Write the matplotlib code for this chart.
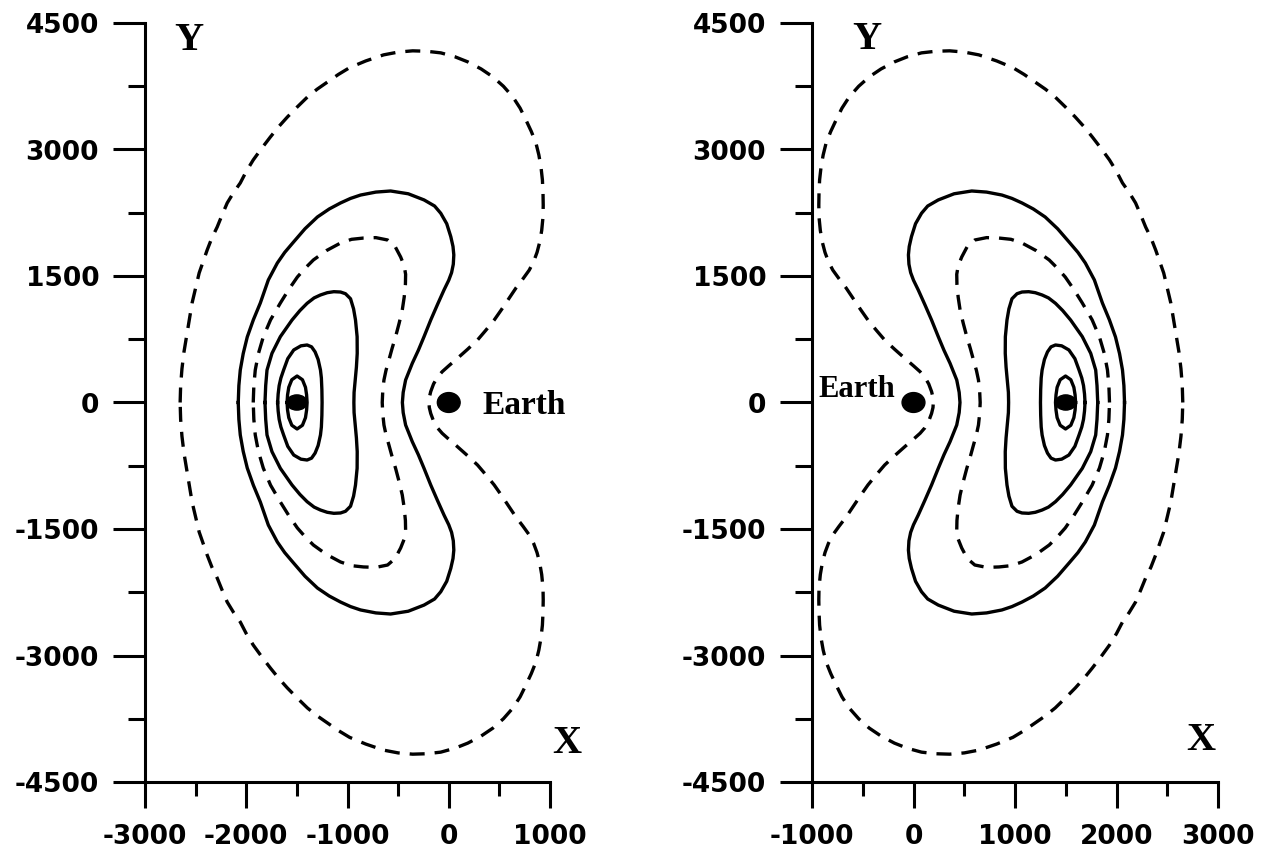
import matplotlib.pyplot as plt
from matplotlib.patches import Ellipse
from matplotlib.ticker import MultipleLocator

plt.rcParams['axes.unicode_minus'] = False

## curves of the left panel (moon at x=-1500), upper half only:
## from the left point on y=0, over the top, to the right point on y=0
d1_x = [-2653, -2648, -2635, -2615, -2584, -2560, -2535, -2500, -2465, -2420, -2386, -2340, -2287,
        -2240, -2188, -2125, -2059, -2000, -1931, -1850, -1762, -1680, -1594, -1500, -1396, -1300,
        -1198, -1090, -980, -820, -644, -500, -356, -220, -79, 60, 188, 320, 436, 540, 634, 705,
        762, 815, 861, 890, 911, 925, 931, 933, 931, 918, 898, 872, 838, 795, 735, 665, 590, 520, 449,
        365, 284, 185, 86, 0, -65, -112, -150, -178, -192, -195]
d1_y = [0, 200, 400, 600, 824, 1000, 1180, 1360, 1536, 1690, 1808, 1950, 2081,
        2220, 2366, 2490, 2603, 2740, 2876, 3010, 3148, 3270, 3385, 3500, 3622, 3715,
        3800, 3890, 3970, 4050, 4122, 4155, 4170, 4165, 4146, 4100, 4039, 3955, 3861, 3750, 3622, 3490,
        3351, 3215, 3077, 2935, 2792, 2640, 2484, 2340, 2200, 2040, 1900, 1780, 1670, 1570, 1470, 1360, 1225, 1100, 978,
        855, 741, 630, 524, 435, 365, 300, 220, 130, 60, 0]

s1_x = [-2079, -2073, -2059, -2030, -1990, -1930, -1861, -1782, -1693, -1620, -1535, -1420, -1297,
        -1180, -1069, -970, -871, -720, -574, -400, -244, -140, -79, -20, 20, 42, 50, 45, 28,
        0, -47, -112, -178, -244, -300, -360, -426, -450, -458]
s1_y = [0, 200, 385, 580, 777, 980, 1180, 1453, 1654, 1780, 1900, 2060, 2200,
        2295, 2366, 2420, 2460, 2495, 2508, 2475, 2402, 2330, 2244, 2120, 1967, 1850, 1750, 1640, 1540,
        1450, 1334, 1160, 978, 781, 620, 465, 267, 120, 0]

d2_x = [-1931, -1925, -1911, -1880, -1832, -1760, -1663, -1580, -1495, -1420, -1337, -1210, -1069,
        -960, -842, -720, -604, -530, -475, -440, -426, -428, -440, -459, -490, -525, -560, -591,
        -620, -640, -652, -657]
d2_y = [0, 200, 385, 580, 777, 980, 1180, 1340, 1488, 1590, 1690, 1800, 1891,
        1935, 1950, 1955, 1927, 1850, 1725, 1620, 1520, 1400, 1250, 1097, 940, 781, 640, 504,
        380, 267, 130, 0]

s2_x = [-1815, -1808, -1795, -1746, -1663, -1548, -1470, -1399, -1330, -1267, -1200, -1135, -1069,
        -1020, -970, -940, -921, -905, -904, -912, -925, -935, -937]
s2_y = [0, 200, 385, 583, 781, 978, 1090, 1176, 1240, 1275, 1302, 1314, 1310,
        1290, 1230, 1110, 978, 780, 583, 420, 250, 120, 0]

s3_x = [-1690, -1685, -1675, -1658, -1631, -1590, -1531, -1460, -1399, -1355, -1320, -1290, -1267,
        -1258, -1253, -1251]
s3_y = [0, 100, 200, 290, 385, 520, 623, 672, 682, 660, 600, 510, 385,
        290, 150, 0]

s4_x = [-1597, -1592, -1580, -1550, -1498, -1445, -1415, -1404, -1399]
s4_y = [0, 90, 180, 270, 314, 270, 180, 90, 0]

moon_x = -1500
earth_x = 0

xticks_left = [-3000, -2000, -1000, 0, 1000]
xticks_right = [-1000, 0, 1000, 2000, 3000]
yticks = [-4500, -3000, -1500, 0, 1500, 3000, 4500]

SERIF = 'Liberation Serif'


def closed(ux, uy, flip=1):
    xs = list(ux) + list(ux[::-1][1:])
    ys = list(uy) + [-v for v in uy[::-1][1:]]
    return [flip * v for v in xs], ys


def panel(ax, flip, xticks):
    dash = (0, (4.5, 3))
    for ux, uy, ls in [(d1_x, d1_y, dash), (s1_x, s1_y, '-'), (d2_x, d2_y, dash),
                       (s2_x, s2_y, '-'), (s3_x, s3_y, '-'), (s4_x, s4_y, '-')]:
        xs, ys = closed(ux, uy, flip)
        ax.plot(xs, ys, color='black', lw=2.4, linestyle=ls, solid_joinstyle='round')

    ax.add_patch(Ellipse((flip * moon_x, 0), 200, 180, color='black', zorder=5))
    ax.add_patch(Ellipse((earth_x, 0), 225, 235, color='black', zorder=5))

    ax.set_xlim(xticks[0], xticks[-1])
    ax.set_ylim(-4500, 4500)
    ax.set_xticks(xticks)
    ax.set_yticks(yticks)
    ax.xaxis.set_minor_locator(MultipleLocator(500))
    ax.yaxis.set_minor_locator(MultipleLocator(750))
    for s in ['top', 'right']:
        ax.spines[s].set_visible(False)
    for s in ['left', 'bottom']:
        ax.spines[s].set_linewidth(2.2)
    ax.tick_params(axis='y', which='major', length=23, width=2.2, pad=10, labelsize=19)
    ax.tick_params(axis='y', which='minor', length=12, width=2.2)
    ax.tick_params(axis='x', which='major', length=18.5, width=2.2, pad=12, labelsize=19)
    ax.tick_params(axis='x', which='minor', length=10, width=2.2)
    for lab in ax.get_xticklabels() + ax.get_yticklabels():
        lab.set_fontweight('bold')


fig = plt.figure(figsize=(12.72, 8.55), dpi=100)
ax1 = fig.add_axes([145 / 1272, 73 / 855, 405 / 1272, 759 / 855])
ax2 = fig.add_axes([812 / 1272, 73 / 855, 406 / 1272, 759 / 855])

panel(ax1, 1, xticks_left)
panel(ax2, -1, xticks_right)

ax1.text(-2564, 4288, 'Y', family=SERIF, weight='bold', fontsize=29, ha='center', va='center')
ax1.text(1168, -4045, 'X', family=SERIF, weight='bold', fontsize=29, ha='center', va='center', clip_on=False)
ax1.text(334, -30, 'Earth', family=SERIF, weight='bold', fontsize=24, ha='left', va='center')

ax2.text(-458, 4300, 'Y', family=SERIF, weight='bold', fontsize=29, ha='center', va='center')
ax2.text(2828, -4003, 'X', family=SERIF, weight='bold', fontsize=29, ha='center', va='center')
ax2.text(-936, 150, 'Earth', family=SERIF, weight='bold', fontsize=22, ha='left', va='center')

plt.savefig('out.png', dpi=100)
